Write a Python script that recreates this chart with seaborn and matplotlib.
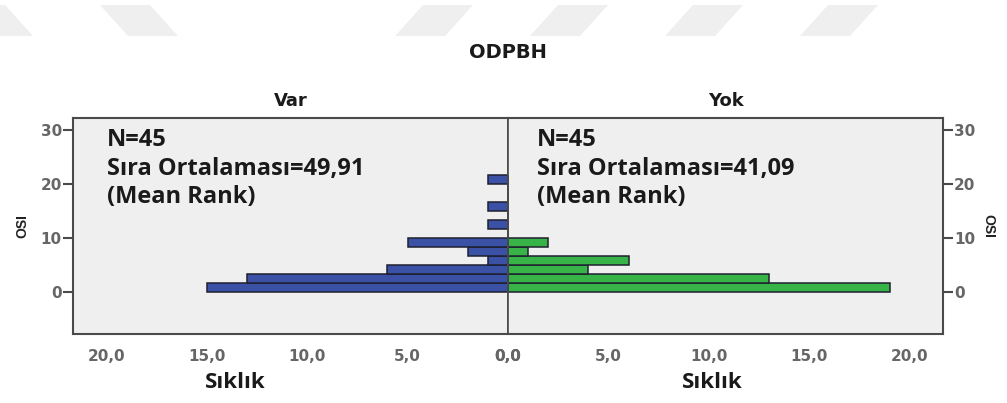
import numpy as np
import pandas as pd
import matplotlib
matplotlib.use("Agg")
import matplotlib.pyplot as plt
from matplotlib.patches import Polygon
import seaborn as sns

# OSI bin midpoints (bin width 10/6) and frequencies per ODPBH group
osi_mid = [0.83, 2.50, 4.17, 5.83, 7.50, 9.17, 10.83, 12.50, 14.17, 15.83, 17.50, 19.17, 20.83]
var_counts = [15, 13, 6, 1, 2, 5, 0, 1, 0, 1, 0, 0, 1]
yok_counts = [19, 13, 4, 6, 1, 2, 0, 0, 0, 0, 0, 0, 0]

groups = ["Var", "Yok"]
n_labels = ["N=45", "N=45"]
mean_ranks = ["49,91", "41,09"]
x_ticks = [0, 5, 10, 15, 20]
y_ticks = [0, 10, 20, 30]

sns.set_theme(style="white")
plt.rcParams["font.family"] = ["DejaVu Sans"]

W, H = 1007, 403
fig = plt.figure(figsize=(W / 100, H / 100), dpi=100)

# light slanted band shapes across the top edge
band_color = "#efefef"
bands = [(-45, "\\"), (100, "\\"), (395, "/"), (530, "/"), (665, "/"), (800, "/")]
for x0, d in bands:
    y_top, y_bot = 403 - 5, 403 - 36
    if d == "\\":
        pts = [(x0, y_top), (x0 + 50, y_top), (x0 + 78, y_bot), (x0 + 28, y_bot)]
    else:
        pts = [(x0 + 28, y_top), (x0 + 78, y_top), (x0 + 50, y_bot), (x0, y_bot)]
    pts = [(px / W, py / H) for px, py in pts]
    fig.patches.append(Polygon(pts, closed=True, transform=fig.transFigure,
                               facecolor=band_color, edgecolor="none", zorder=0))

ax_left = fig.add_axes([73 / W, (H - 334) / H, 435 / W, 216 / H])
ax_right = fig.add_axes([508 / W, (H - 334) / H, 435 / W, 216 / H])

bw = 10 / 6
n_bins = len(osi_mid)

df = pd.DataFrame({"osi": osi_mid, "Var": var_counts, "Yok": yok_counts})

colors = {"Var": "#3b51a5", "Yok": "#38b348"}
spine_c = "#4a4a4a"
tick_c = "#666666"
xmax = 21.65
sans = ["Liberation Sans", "DejaVu Sans"]
bold_font = ["Open Sans", "DejaVu Sans"]

for ax, grp, nlab, mr in zip([ax_left, ax_right], groups, n_labels, mean_ranks):
    ax.set_facecolor("#efefef")
    sns.histplot(data=df, y="osi", weights=grp, binwidth=bw, binrange=(0, n_bins * bw),
                 ax=ax, color=colors[grp], edgecolor="#1e2030", linewidth=1.1, alpha=1.0)
    ax.set_ylim(-7.8, 32.2)
    if grp == "Var":
        ax.set_xlim(xmax, 0)
        ax.yaxis.tick_left()
        ax.yaxis.set_label_position("left")
        ax.set_ylabel("OSI", fontsize=10, fontweight="bold", color="#222222",
                      labelpad=8, family=sans)
    else:
        ax.set_xlim(0, xmax)
        ax.yaxis.tick_right()
        ax.yaxis.set_label_position("right")
        ax.set_ylabel("OSI", fontsize=10, fontweight="bold", color="#222222",
                      rotation=270, labelpad=14, family=sans)
    ax.set_xlabel("")
    ax.set_xticks(x_ticks)
    ax.set_xticklabels([f"{v:.1f}".replace(".", ",") for v in x_ticks])
    ax.set_yticks(y_ticks)
    ax.set_yticklabels([str(v) for v in y_ticks])
    ax.tick_params(axis="both", which="both", direction="out", length=7, width=1.5,
                   colors=spine_c, labelcolor=tick_c, labelsize=11, pad=1)
    ax.tick_params(axis="x", pad=4)
    for lab in ax.get_xticklabels() + ax.get_yticklabels():
        lab.set_fontfamily(["DejaVu Sans"])
        lab.set_fontweight("bold")
    for s in ax.spines.values():
        s.set_color(spine_c)
        s.set_linewidth(1.5)
        s.set_visible(True)
    ax.grid(False)
    ax.set_title(grp, fontsize=13, fontweight="bold", pad=9, family=["DejaVu Sans"],
                 color="#1a1a1a")
    x_txt = 0.078 if grp == "Var" else 0.067
    for yf, txt in zip([0.898, 0.762, 0.635], [nlab, f"Sıra Ortalaması={mr}", "(Mean Rank)"]):
        ax.text(x_txt, yf, txt, transform=ax.transAxes, ha="left", va="center",
                fontsize=17, fontweight="bold", color="#1a1a1a", family=bold_font)

ax_left.spines["right"].set_linewidth(1.2)
ax_right.spines["left"].set_linewidth(1.2)

fig.text(508 / W, 1 - 53 / H, "ODPBH", ha="center", va="center", fontsize=14,
         fontweight="bold", color="#1a1a1a", family=["DejaVu Sans"])
for xc, lab in zip([235, 712], ["Sıklık", "Sıklık"]):
    fig.text(xc / W, 1 - 383 / H, lab, ha="center", va="center", fontsize=16,
             fontweight="bold", color="#1a1a1a", family=bold_font)

fig.savefig("out.png", dpi=100, facecolor="white")
